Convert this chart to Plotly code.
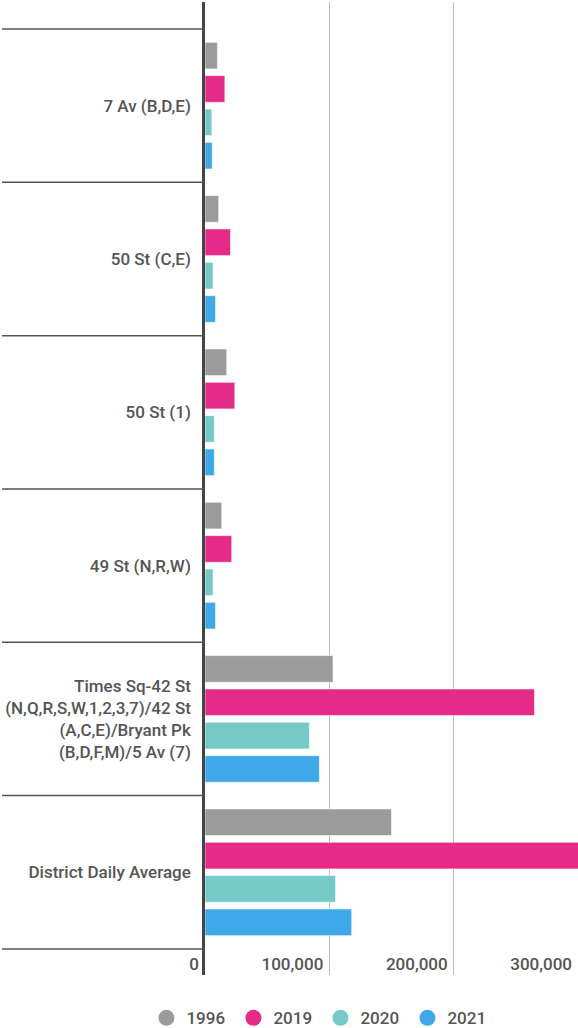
import plotly.graph_objects as go

categories = [
    "7 Av (B,D,E)",
    "50 St (C,E)",
    "50 St (1)",
    "49 St (N,R,W)",
    "Times Sq-42 St<br>(N,Q,R,S,W,1,2,3,7)/42 St<br>(A,C,E)/Bryant Pk<br>(B,D,F,M)/5 Av (7)",
    "District Daily Average",
]
years = ["1996", "2019", "2020", "2021"]
v1996 = [10000, 11000, 17500, 13500, 103000, 150000]
v2019 = [16000, 20500, 24000, 21500, 265000, 310000]
v2020 = [5500, 6500, 7500, 6500, 84000, 105000]
v2021 = [5800, 8500, 7500, 8500, 92000, 118000]
series = [v1996, v2019, v2020, v2021]
colors = ["rgb(155,155,155)", "rgb(229,42,135)", "rgb(117,201,198)", "rgb(62,168,232)"]
xticks = [0, 100000, 200000, 300000]
xticktext = ["0", "100,000", "200,000", "300,000"]

FONT = "Roboto"
TXT = "#555555"
L = 205
W = 578
PW = W - L

fig = go.Figure()
for name, vals, col in zip(years, series, colors):
    fig.add_trace(go.Bar(
        y=categories, x=vals, orientation="h", name=name,
        marker=dict(color=col, line=dict(color="rgba(255,255,255,0.6)", width=1)),
        showlegend=False,
    ))
for name, col in zip(years, colors):
    fig.add_trace(go.Scatter(
        x=[None], y=[None], mode="markers", name=name,
        marker=dict(color=col, size=20, symbol="circle"),
        showlegend=True,
    ))

n = len(categories)
for i in range(n + 1):
    fig.add_shape(type="line", xref="paper", yref="y",
                  x0=-(L - 2) / PW, x1=0, y0=i - 0.5, y1=i - 0.5,
                  line=dict(color="#555555", width=1.5), layer="above")

fig.update_layout(
    width=W, height=1028,
    margin=dict(l=L, r=0, t=2, b=53, autoexpand=False),
    paper_bgcolor="white", plot_bgcolor="white",
    barmode="group", bargap=0.13, bargroupgap=0.2,
    font=dict(family=FONT, color=TXT, size=17),
    legend=dict(orientation="h", x=-0.157, xanchor="left", y=-0.026, yanchor="top",
                font=dict(size=17, color=TXT, family=FONT, weight=500),
                itemsizing="trace", traceorder="normal",
                entrywidth=42, entrywidthmode="pixels"),
    showlegend=True,
)
fig.update_xaxes(
    range=[0, 300000], tickvals=xticks, ticktext=xticktext,
    ticklabelposition="inside left", ticklabeloverflow="allow", ticklabelshift=-6,
    ticklabelstandoff=-4,
    showgrid=True, gridcolor="#bdbdbd", gridwidth=1,
    zeroline=False, showline=False, ticks="", automargin=False,
    tickfont=dict(size=17, color=TXT, family=FONT, weight=500),
)
fig.update_yaxes(
    range=[n - 1 + 0.67, -0.676], showline=True, linecolor="#444444", linewidth=2.5,
    showgrid=False, zeroline=False, ticks="", ticklabelstandoff=8, automargin=False,
    tickfont=dict(size=17, color=TXT, family=FONT, weight=500),
)
fig.write_html(
    "out.html",
    config={"displayModeBar": False},
    post_script="document.body.style.margin='0';document.body.style.overflow='hidden';",
)
